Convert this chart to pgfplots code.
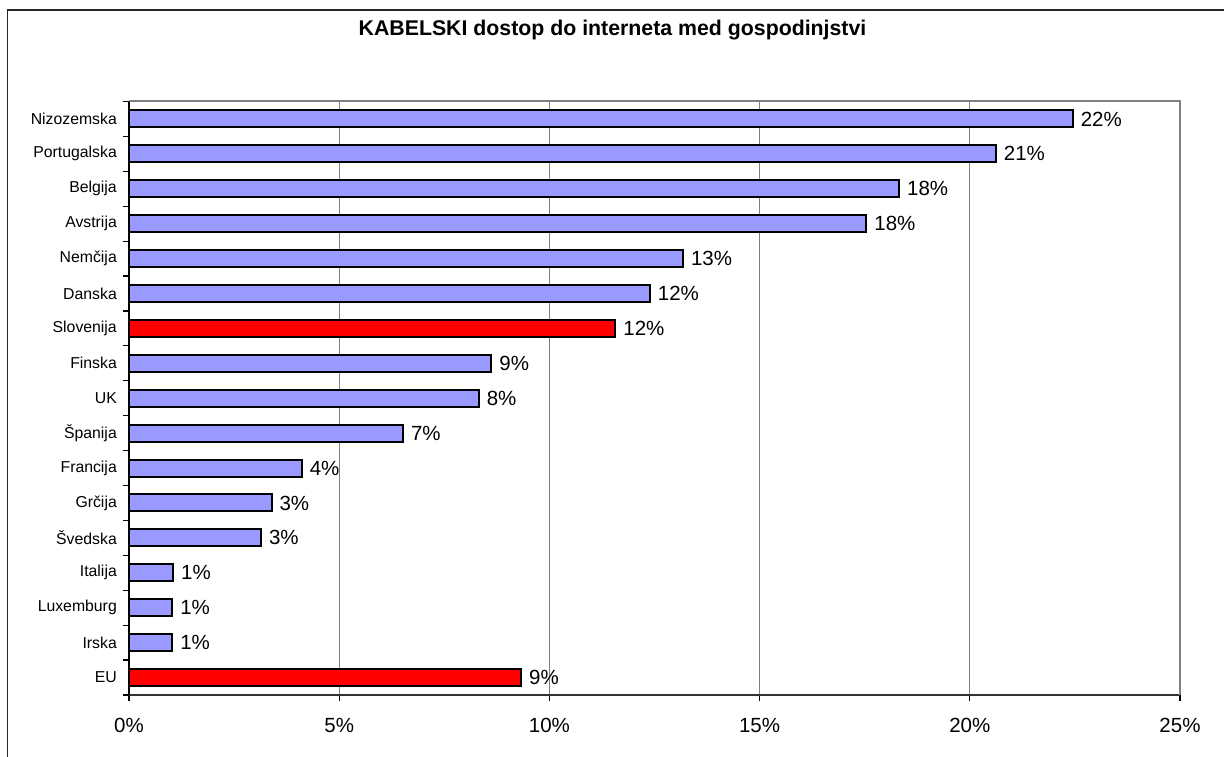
\documentclass[border=0pt]{standalone}
\usepackage{pgfplots}
\pgfplotsset{compat=1.18}
\usepackage{pgfplotstable}
\usepackage{fontspec}
\setmainfont{Liberation Sans}
\definecolor{barblue}{HTML}{9999FF}
\definecolor{barred}{HTML}{FF0000}
\definecolor{gridgray}{HTML}{808080}

\pgfplotstableread{
pos val lab
16 22.45 22
15 20.62 21
14 18.32 18
13 17.54 18
12 13.18 13
11 12.39 12
9  8.62  9
8  8.32  8
7  6.52  7
6  4.11  4
5  3.39  3
4  3.14  3
3  1.05  1
2  1.03  1
1  1.03  1
}\bluedata

\pgfplotstableread{
pos val lab
10 11.57 12
0  9.33  9
}\reddata

\begin{document}
\begin{tikzpicture}
\useasboundingbox (0pt,0pt) rectangle (1224pt,757pt);
% outer chart frame (cut at right and bottom)
\draw[line width=1.5pt, black!85] (7.5pt,0pt) -- (7.5pt,747pt) -- (1224pt,747pt);
\node[font=\fontsize{21.3}{25}\selectfont\bfseries] at (612.5pt,727pt) {KABELSKI dostop do interneta med gospodinjstvi};
\begin{axis}[
  at={(129pt,62pt)}, anchor=south west,
  scale only axis, width=1051pt, height=593.5pt,
  xmin=0, xmax=25, ymin=-0.5, ymax=16.5,
  axis x line*=bottom, axis y line*=left,
  x axis line style={line width=1.5pt, black!80},
  y axis line style={line width=2pt, black},
  xbar, bar width=17pt, bar shift=0pt,
  xtick={0,5,...,25},
  xticklabels={0\%,5\%,10\%,15\%,20\%,25\%},
  ytick={-0.5,0.5,...,16.5},
  y tick label as interval,
  yticklabels={EU,Irska,Luxemburg,Italija,Švedska,Grčija,Francija,Španija,UK,Finska,Slovenija,Danska,Nemčija,Avstrija,Belgija,Portugalska,Nizozemska},
  tick align=outside, major tick length=6pt,
  tick style={black, line width=1.2pt},
  xticklabel style={font=\fontsize{20.5}{24}\selectfont, inner sep=0pt, anchor=north, yshift=-17pt},
  yticklabel style={font=\fontsize{15.8}{19}\selectfont, inner sep=0pt, anchor=east, xshift=-6pt},
  xmajorgrids, major grid style={gridgray, line width=1pt},
  point meta=explicit symbolic,
  nodes near coords={\pgfplotspointmeta\%},
  every node near coord/.append style={font=\fontsize{20.5}{24}\selectfont, anchor=west, inner sep=0pt, xshift=7pt, text=black},
  clip=false,
]
\addplot[draw=black, line width=2pt, fill=barblue] table[x=val, y=pos, meta=lab] {\bluedata};
\addplot[draw=black, line width=2pt, fill=barred] table[x=val, y=pos, meta=lab] {\reddata};
\draw[gridgray, line width=2pt] (rel axis cs:0,1) -- (rel axis cs:1,1) -- (rel axis cs:1,0);
\end{axis}
\end{tikzpicture}
\end{document}
